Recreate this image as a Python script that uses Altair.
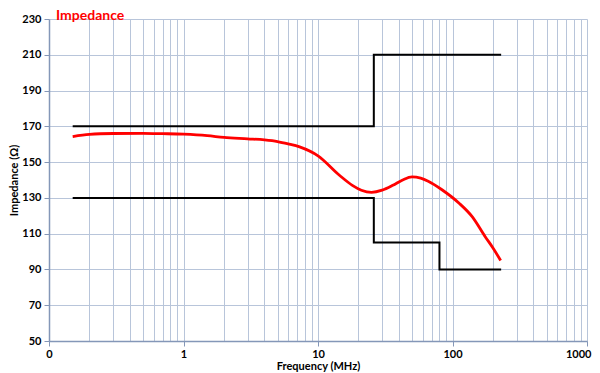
import altair as alt
import pandas as pd

# Red measured impedance curve (MHz, Ohm)
curve_freq = [0.15, 0.2, 0.3, 0.5, 0.7, 1.0, 1.5, 2.0, 3.0, 4.0, 5.0, 6.0, 7.3, 10, 14.5,
              18, 21, 25, 30, 36, 42.6, 50, 58, 66, 84, 112, 140, 175, 200, 228]
curve_val = [164.3, 165.5, 166.0, 166.1, 165.9, 165.6, 164.8, 163.8, 163.0, 162.4, 161.5,
             160.2, 158.5, 153.5, 142.5, 137.0, 134.3, 133.1, 134.3, 137.0, 140.0, 141.7,
             141.0, 139.3, 134.4, 127.0, 119.5, 108.3, 102.0, 95.0]

# Upper limit mask
upper_freq = [0.15, 26, 26, 230]
upper_val = [170, 170, 210, 210]
# Lower limit mask
lower_freq = [0.15, 26, 26, 80, 80, 230]
lower_val = [130, 130, 105, 105, 90, 90]

y_ticks = [50, 70, 90, 110, 130, 150, 170, 190, 210, 230]
x_grid = [round(k * 10 ** e, 6) for e in range(-1, 3) for k in range(1, 10)] + [1000]

FONT = "Lato"

curve_df = pd.DataFrame({"f": curve_freq, "z": curve_val, "o": range(len(curve_freq))})
limit_df = pd.concat([
    pd.DataFrame({"f": upper_freq, "z": upper_val, "o": range(len(upper_freq)), "s": "upper"}),
    pd.DataFrame({"f": lower_freq, "z": lower_val, "o": range(len(lower_freq)), "s": "lower"}),
])

decade = "abs(log(datum.value)/LN10 - round(log(datum.value)/LN10)) < 0.000001"

x_enc = alt.X(
    "f:Q",
    scale=alt.Scale(type="log", domain=[0.1, 1000], nice=False),
    axis=alt.Axis(
        values=x_grid,
        title="Frequency (MHz)",
        labelExpr=f"({decade}) ? (datum.value < 0.5 ? '0' : format(datum.value, 'd')) : ''",
        labelOverlap=False,
        labelFlush=False,
        labelAlign={"condition": {"test": "datum.value >= 999", "value": "right"}, "value": "center"},
        labelOffset={"condition": {"test": "datum.value >= 999", "value": 4}, "value": 0},
        tickOpacity={"condition": {"test": decade, "value": 1}, "value": 0},
        tickSize=5,
        titlePadding=1,
        labelPadding=2,
    ),
)
y_enc = alt.Y(
    "z:Q",
    scale=alt.Scale(domain=[50, 230], nice=False, zero=False),
    axis=alt.Axis(values=y_ticks, title="Impedance (Ω)", tickSize=5, labelPadding=3,
                  titlePadding=2),
)

limits = alt.Chart(limit_df).mark_line(color="black", strokeWidth=2).encode(
    x=x_enc, y=y_enc, detail="s:N", order="o:Q"
)
curve = alt.Chart(curve_df).mark_line(color="#ff0000", strokeWidth=2.8, interpolate="monotone").encode(
    x=x_enc, y=y_enc, order="o:Q"
)

chart = alt.layer(limits, curve).properties(
    width=538,
    height=322,
    autosize=alt.AutoSizeParams(type="none"),
    padding={"left": 41, "top": 11, "right": 5, "bottom": 32},
    title=alt.TitleParams("Impedance", anchor="start", frame="group", dx=7, dy=9.5, offset=0,
                          color="#ff0000", font=FONT, fontSize=14, fontWeight="bold"),
).configure_axis(
    gridColor="#b8c5da",
    gridWidth=1,
    gridOpacity=1,
    domainColor="#8497b8",
    domainWidth=1.5,
    tickColor="#8497b8",
    labelFont=FONT,
    labelFontSize=11,
    labelFontWeight="bold",
    labelColor="#000000",
    titleFont=FONT,
    titleFontSize=11,
    titleFontWeight="bold",
    titleColor="#000000",
).configure_view(stroke=None)

chart.save("out.html", embed_options={"renderer": "svg", "actions": False})
